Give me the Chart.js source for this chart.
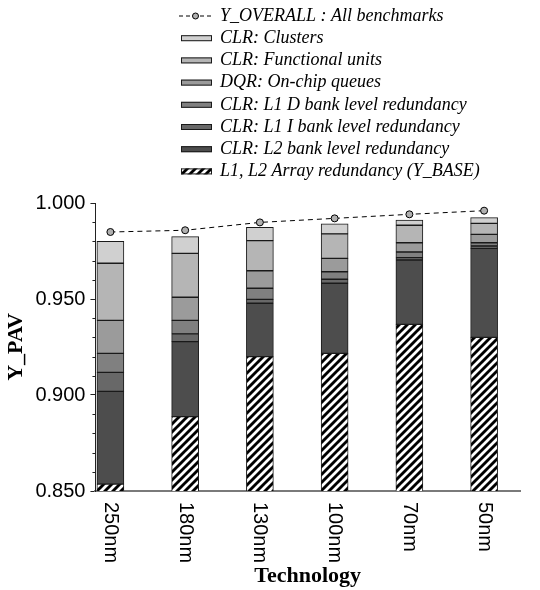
<!DOCTYPE html>
<html>
<head>
<meta charset="utf-8">
<script src="https://cdn.jsdelivr.net/npm/chart.js@4.4.1/dist/chart.umd.min.js"></script>
<style>
  html, body { margin: 0; padding: 0; background: #fff; }
  #wrap { width: 540px; height: 590px; }
</style>
</head>
<body>
<div id="wrap"><canvas id="yieldChart" width="540" height="590"></canvas></div>
<script>
// Technology nodes (x categories)
const technologies = ['250nm', '180nm', '130nm', '100nm', '70nm', '50nm'];

// Stack segments, bottom to top
const arrayRedundancy = [0.8536, 0.8887, 0.9200, 0.9217, 0.9368, 0.9300];
const l2Bank = [0.0483, 0.0391, 0.0278, 0.0365, 0.0335, 0.0464];
const l1IBank = [0.0099, 0.0040, 0.0020, 0.0021, 0.0012, 0.0012];
const l1DBank = [0.0099, 0.0071, 0.0058, 0.0039, 0.0030, 0.0017];
const onChipQueues = [0.0172, 0.0120, 0.0091, 0.0070, 0.0048, 0.0044];
const functionalUnits = [0.0297, 0.0229, 0.0157, 0.0127, 0.0091, 0.0057];
const clusters = [0.0114, 0.0087, 0.0069, 0.0052, 0.0027, 0.0030];

// Overall yield line
const yOverall = [0.9849, 0.9858, 0.9899, 0.9920, 0.9941, 0.9960];

// Y axis ticks
const yMin = 0.85;
const yMax = 1.0;
const yMajorStep = 0.05;
const yMinorStep = 0.01;

const serif = '"Liberation Serif", "Times New Roman", serif';
const sans = '"Liberation Sans", Arial, sans-serif';

function isMajor(v) {
    const k = Math.round((v - yMin) / yMinorStep);
    return k % Math.round(yMajorStep / yMinorStep) === 0;
}

// black with white "/" stripes
function makeHatch() {
    const c = document.createElement('canvas');
    c.width = 8;
    c.height = 8;
    const g = c.getContext('2d');
    g.fillStyle = '#000';
    g.fillRect(0, 0, 8, 8);
    g.strokeStyle = '#fff';
    g.lineWidth = 2.8;
    g.beginPath();
    g.moveTo(-2, 10); g.lineTo(10, -2);
    g.moveTo(-6, 6); g.lineTo(6, -6);
    g.moveTo(2, 14); g.lineTo(14, 2);
    g.stroke();
    return g.createPattern(c, 'repeat');
}
const hatch = makeHatch();

function pts(values) {
    return values.map((v, i) => ({ x: i, y: v }));
}

function barSet(label, values, color) {
    return {
        type: 'bar',
        label: label,
        data: pts(values),
        backgroundColor: color,
        borderColor: '#1a1a1a',
        borderWidth: 1,
        borderSkipped: false,
        barThickness: 27,
        stack: 'yield',
        order: 1
    };
}

const datasets = [
    {
        type: 'line',
        label: 'Y_OVERALL : All benchmarks',
        data: pts(yOverall),
        borderColor: '#000',
        borderWidth: 1,
        borderDash: [5, 4],
        pointRadius: 3.5,
        pointBackgroundColor: '#b0b0b0',
        pointBorderColor: '#000',
        pointBorderWidth: 1,
        fill: false,
        stack: 'overall',
        order: 0
    },
    barSet('L1, L2 Array redundancy (Y_BASE)', arrayRedundancy, hatch),
    barSet('CLR: L2 bank level redundancy', l2Bank, '#4d4d4d'),
    barSet('CLR: L1 I bank level redundancy', l1IBank, '#686868'),
    barSet('CLR: L1 D bank level redundancy', l1DBank, '#808080'),
    barSet('DQR: On-chip queues', onChipQueues, '#9b9b9b'),
    barSet('CLR: Functional units', functionalUnits, '#b5b5b5'),
    barSet('CLR: Clusters', clusters, '#d0d0d0')
];

// rotated category labels, minor y ticks, vertical legend
const decorations = {
    id: 'decorations',
    afterDraw(chart) {
        const ctx = chart.ctx;
        const xs = chart.scales.x;
        const ys = chart.scales.y;
        const area = chart.chartArea;

        ctx.save();
        ctx.fillStyle = '#000';
        ctx.font = '20px ' + sans;
        ctx.textAlign = 'left';
        ctx.textBaseline = 'middle';
        technologies.forEach((t, i) => {
            ctx.save();
            ctx.translate(xs.getPixelForValue(i), area.bottom + 11);
            ctx.rotate(Math.PI / 2);
            ctx.fillText(t, 0, 0);
            ctx.restore();
        });

        // short minor ticks
        ctx.strokeStyle = '#222';
        ctx.lineWidth = 1;
        ys.ticks.forEach(t => {
            if (isMajor(t.value)) return;
            const py = Math.round(ys.getPixelForValue(t.value)) + 0.5;
            ctx.beginPath();
            ctx.moveTo(area.left - 3, py);
            ctx.lineTo(area.left, py);
            ctx.stroke();
        });
        ctx.restore();

        // legend: line first, then bars from top of stack down
        const items = [datasets[0]].concat(datasets.slice(1).reverse());
        const symX = 181;
        const symW = 31;
        const textX = 220;
        let y = 16;
        ctx.save();
        ctx.font = 'italic 18px ' + serif;
        ctx.textBaseline = 'middle';
        ctx.textAlign = 'left';
        items.forEach(ds => {
            if (ds.type === 'line') {
                ctx.strokeStyle = '#000';
                ctx.lineWidth = 1;
                ctx.setLineDash([4, 3]);
                ctx.beginPath();
                ctx.moveTo(symX - 2, y);
                ctx.lineTo(symX + symW, y);
                ctx.stroke();
                ctx.setLineDash([]);
                ctx.beginPath();
                ctx.arc(symX + symW / 2 - 1, y, 3, 0, Math.PI * 2);
                ctx.fillStyle = '#b0b0b0';
                ctx.fill();
                ctx.stroke();
            } else {
                ctx.fillStyle = ds.backgroundColor;
                ctx.fillRect(symX, y - 3, symW, 6);
                ctx.strokeStyle = '#1a1a1a';
                ctx.lineWidth = 1;
                ctx.strokeRect(symX + 0.5, y - 2.5, symW - 1, 5);
            }
            ctx.fillStyle = '#000';
            ctx.fillText(ds.label, textX, y);
            y += 22.2;
        });
        ctx.restore();
    }
};

new Chart(document.getElementById('yieldChart'), {
    data: { datasets: datasets },
    options: {
        responsive: false,
        animation: false,
        layout: { padding: { top: 203, right: 20, bottom: 0, left: 3 } },
        plugins: {
            legend: { display: false },
            tooltip: { enabled: false }
        },
        scales: {
            x: {
                type: 'linear',
                min: -0.2,
                max: 5.48,
                offset: false,
                stacked: true,
                grid: { display: false, drawTicks: false, offset: false },
                border: { display: true, color: '#7a7a7a', width: 2 },
                ticks: { display: false },
                title: {
                    display: true,
                    text: 'Technology',
                    color: '#000',
                    font: { family: serif, size: 22, weight: 'bold' },
                    padding: { top: 72.6, bottom: 0 }
                }
            },
            y: {
                stacked: true,
                min: yMin,
                max: yMax,
                grid: {
                    drawOnChartArea: false,
                    tickLength: 5,
                    tickColor: c => (isMajor(c.tick.value) ? '#222' : 'rgba(0,0,0,0)')
                },
                border: { display: true, color: '#222', width: 1 },
                ticks: {
                    stepSize: yMinorStep,
                    autoSkip: false,
                    color: '#000',
                    padding: 5,
                    font: { family: sans, size: 20 },
                    callback: v => (isMajor(v) ? v.toFixed(3) : '')
                },
                title: {
                    display: true,
                    text: 'Y_PAV',
                    color: '#000',
                    font: { family: serif, size: 22, weight: 'bold' },
                    padding: { top: 0, bottom: 1 }
                }
            }
        }
    },
    plugins: [decorations]
});
</script>
</body>
</html>
